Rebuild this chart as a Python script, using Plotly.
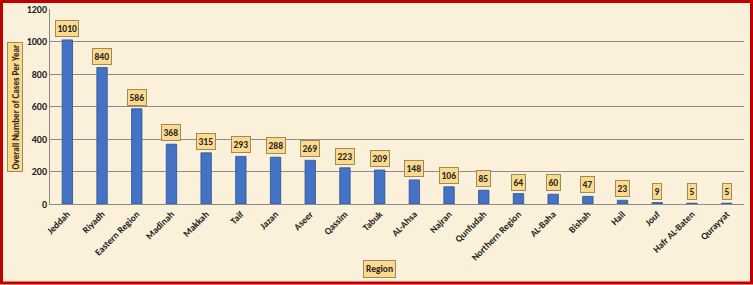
import plotly.graph_objects as go

regions = ["Jeddah", "Riyadh", "Eastern Region", "Madinah", "Makkah", "Taif", "Jazan",
           "Aseer", "Qassim", "Tabuk", "AL-Ahsa", "Najran", "Qunfudah", "Northern Region",
           "AL-Baha", "Bishah", "Hail", "Jouf", "Hafr AL-Baten", "Qurayyat"]
cases = [1010, 840, 586, 368, 315, 293, 288, 269, 223, 209, 148, 106, 85, 64, 60, 47, 23, 9, 5, 5]
y_ticks = [0, 200, 400, 600, 800, 1000, 1200]

W, H = 753, 285
ml, mr, mt, mb = 50, 9, 9, 81
pw, ph = W - ml - mr, H - mt - mb

bg = "#FBF1DB"
box_fill = "#FDD98E"
box_line = "#9C8A5E"
font_fam = "Calibri, Carlito, 'Liberation Sans', Arial, sans-serif"

fig = go.Figure()
fig.add_trace(go.Bar(
    x=regions, y=cases, width=0.3,
    marker=dict(color="#4472C4", line=dict(color="#2F528F", width=0.8)),
    hoverinfo="x+y",
))

for r, v in zip(regions, cases):
    fig.add_annotation(
        x=r, y=v, text="<b>%d</b>" % v, showarrow=False, yanchor="bottom", yshift=3,
        font=dict(size=9.5, color="#222", family=font_fam),
        bgcolor=box_fill, bordercolor=box_line, borderwidth=1, borderpad=1.5,
    )

fig.add_annotation(
    x=(15 - ml) / pw, y=(ph - (107 - mt)) / ph, xref="paper", yref="paper", textangle=-90,
    xanchor="center", yanchor="middle",
    text="<b>Overall Number of Cases Per Year</b>", showarrow=False,
    font=dict(size=9, color="#222", family=font_fam),
    bgcolor=box_fill, bordercolor=box_line, borderwidth=1, borderpad=1.5,
)
fig.add_annotation(
    x=(379 - ml) / pw, y=-(269 - mt - ph) / ph, xref="paper", yref="paper",
    xanchor="center", yanchor="middle",
    text="<b>Region</b>", showarrow=False,
    font=dict(size=9.5, color="#222", family=font_fam),
    bgcolor=box_fill, bordercolor=box_line, borderwidth=1, borderpad=2,
)

# red frame around the whole picture
fig.add_shape(
    type="rect", xref="paper", yref="paper",
    x0=(1.5 - ml) / pw, x1=(W - 1.5 - ml) / pw,
    y0=-(H - 2 - mt - ph) / ph, y1=1 + (mt - 1.5) / ph,
    line=dict(color="#C00000", width=3), layer="above",
)

fig.update_layout(
    width=W, height=H,
    margin=dict(l=ml, r=mr, t=mt, b=mb),
    paper_bgcolor=bg, plot_bgcolor=bg,
    showlegend=False, bargap=0.7,
    font=dict(family=font_fam, color="#222"),
)
fig.update_xaxes(
    tickangle=-45, tickfont=dict(size=9.5, family=font_fam, color="#222"),
    showline=True, linecolor="#8C8C8C", linewidth=1, showgrid=False,
    ticks="", range=[-0.5, len(regions) - 0.5], automargin=False,
    tickprefix="<b>", ticksuffix="</b>",
)
fig.update_yaxes(
    range=[0, 1200], tickvals=y_ticks, ticktext=["<b>%d</b>" % t for t in y_ticks],
    tickfont=dict(size=10, family=font_fam, color="#222"), automargin=False,
    showgrid=True, gridcolor="#8C8C8C", gridwidth=1,
    showline=True, linecolor="#8C8C8C", linewidth=1, zeroline=False, ticks="",
)

fig.write_html("out.html")
